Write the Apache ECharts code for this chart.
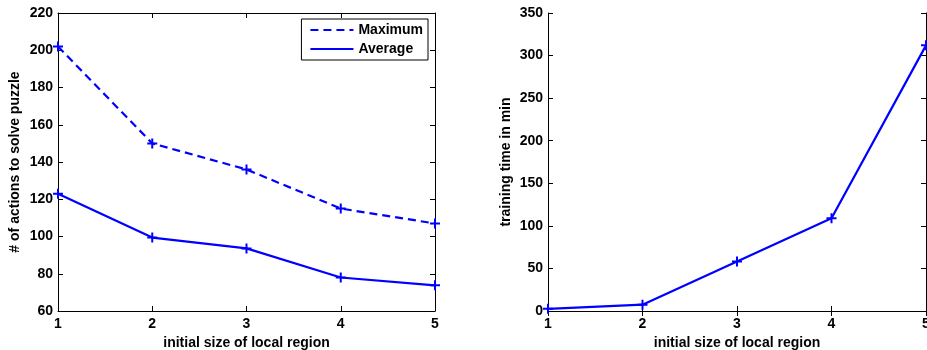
<!DOCTYPE html>
<html><head><meta charset="utf-8">
<script src="https://cdn.jsdelivr.net/npm/echarts@6/dist/echarts.min.js"></script>
<style>html,body{margin:0;padding:0;background:#fff}#c{width:927px;height:350px}</style>
</head><body><div id="c"></div>
<script>
const sizes = [1, 2, 3, 4, 5];
const maximumActions = [202, 150, 136, 115, 107];
const averageActions = [123, 99.4, 93.6, 78, 73.8];
const trainingTime = [2.5, 7.4, 58, 109, 312];
const leftYTicks = {min: 60, max: 220, interval: 20};
const rightYTicks = {min: 0, max: 350, interval: 50};

const font = 'Liberation Sans, Arial, sans-serif';
const fs = 14;
const plus = 'path://M4,0H6V4H10V6H6V10H4V6H0V4H4Z';
const blue = '#0000ff';
const pair = (xs, ys) => xs.map((x, i) => [x, ys[i]]);

function xAxes(grid) {
  const base = {
    type: 'value', gridIndex: grid, min: 1, max: 5, interval: 1,
    axisLine: {show: true, lineStyle: {color: '#000', width: 1}},
    axisTick: {show: true, inside: true, length: 5, lineStyle: {color: '#000'}},
    splitLine: {show: false}
  };
  return [
    Object.assign({}, base, {
      position: 'bottom',
      name: 'initial size of local region', nameLocation: 'middle', nameGap: 23,
      nameTextStyle: {fontFamily: font, fontWeight: 'bold', fontSize: fs, color: '#000'},
      axisLabel: {show: true, fontFamily: font, fontWeight: 'bold', fontSize: fs, color: '#000', margin: 6}
    }),
    Object.assign({}, base, {position: 'top', axisLabel: {show: false}})
  ];
}
function yAxes(grid, ticks, name, gap) {
  const base = {
    type: 'value', gridIndex: grid, min: ticks.min, max: ticks.max, interval: ticks.interval,
    axisLine: {show: true, lineStyle: {color: '#000', width: 1}},
    axisTick: {show: true, inside: true, length: 5, lineStyle: {color: '#000'}},
    splitLine: {show: false}
  };
  return [
    Object.assign({}, base, {
      position: 'left', name: name, nameLocation: 'middle', nameGap: gap,
      nameTextStyle: {fontFamily: font, fontWeight: 'bold', fontSize: fs, color: '#000'},
      axisLabel: {show: true, fontFamily: font, fontWeight: 'bold', fontSize: fs, color: '#000', margin: 5}
    }),
    Object.assign({}, base, {position: 'right', axisLabel: {show: false}})
  ];
}

const chart = echarts.init(document.getElementById('c'), null, {renderer: 'canvas'});
chart.setOption({
  animation: false,
  backgroundColor: '#fff',
  grid: [
    {left: 58, right: 492, top: 13, bottom: 39, containLabel: false, outerBoundsMode: 'none'},
    {left: 548, right: 1, top: 13, bottom: 39, containLabel: false, outerBoundsMode: 'none'}
  ],
  xAxis: [...xAxes(0), ...xAxes(1)],
  yAxis: [...yAxes(0, leftYTicks, '# of actions to solve puzzle', 36), ...yAxes(1, rightYTicks, 'training time in min', 35)],
  legend: {
    show: true, orient: 'vertical', right: 499, top: 19,
    backgroundColor: '#fff', borderColor: '#000', borderWidth: 1, borderRadius: 0,
    padding: [4, 5, 4, 8], itemGap: 5, itemWidth: 43, itemHeight: 14,
    textStyle: {fontFamily: font, fontWeight: 'bold', fontSize: fs, color: '#000'},
    itemStyle: {opacity: 0},
    data: ['Maximum', 'Average']
  },
  series: [
    {
      name: 'Maximum', type: 'line', xAxisIndex: 0, yAxisIndex: 0,
      data: pair(sizes, maximumActions), symbol: plus, symbolSize: 10,
      lineStyle: {color: blue, width: 2.2, type: [8, 5]}, itemStyle: {color: blue}
    },
    {
      name: 'Average', type: 'line', xAxisIndex: 0, yAxisIndex: 0,
      data: pair(sizes, averageActions), symbol: plus, symbolSize: 10,
      lineStyle: {color: blue, width: 2.2}, itemStyle: {color: blue}
    },
    {
      name: 'Training time', type: 'line', xAxisIndex: 2, yAxisIndex: 2,
      data: pair(sizes, trainingTime), symbol: plus, symbolSize: 10,
      lineStyle: {color: blue, width: 2.2}, itemStyle: {color: blue}
    }
  ]
});
</script></body></html>
